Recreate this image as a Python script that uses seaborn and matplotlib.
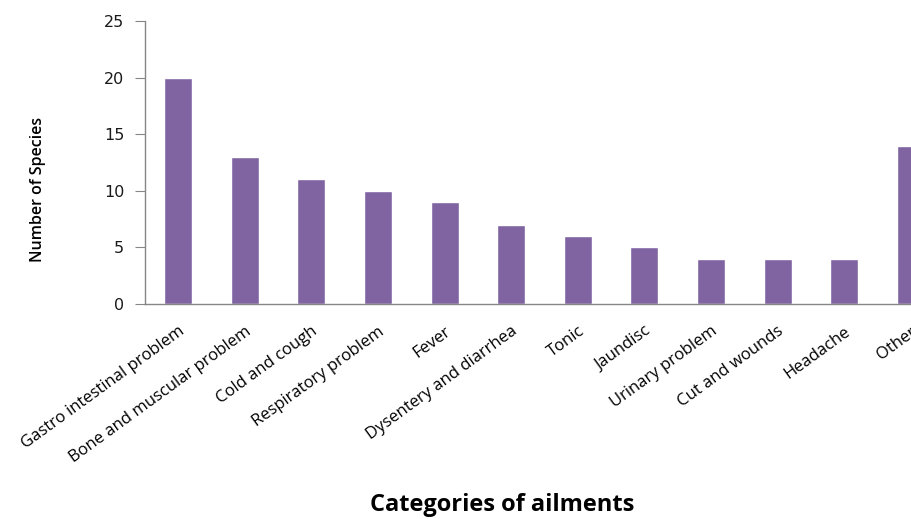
import numpy as np
import pandas as pd
import matplotlib
matplotlib.use('Agg')
import matplotlib.pyplot as plt
import matplotlib.transforms as mtransforms
import seaborn as sns

# Data
ailments = ['Gastro intestinal problem', 'Bone and muscular problem', 'Cold and cough',
            'Respiratory problem', 'Fever', 'Dysentery and diarrhea', 'Tonic', 'Jaundisc',
            'Urinary problem', 'Cut and wounds', 'Headache', 'Other']
species_count = [20, 13, 11, 10, 9, 7, 6, 5, 4, 4, 4, 14]
y_ticks = [0, 5, 10, 15, 20, 25]

df = pd.DataFrame({'ailment': ailments, 'count': species_count})

sns.set_style("white")
axis_grey = '#868686'

fig = plt.figure(figsize=(9.12, 5.19), dpi=100)
# plot area runs past the right edge, like the original (last bar is cut off)
ax = fig.add_axes([145 / 912, 215 / 519, 799 / 912, 283 / 519])

sns.barplot(x='ailment', y='count', data=df, color='#8064A2', width=0.42,
            saturation=1, ax=ax)

ax.set_xlim(-0.5, len(ailments) - 0.5)
ax.set_ylim(0, 25)
ax.set_yticks(y_ticks)
ax.set_yticklabels([str(t) for t in y_ticks], family='DejaVu Sans', fontsize=11.5,
                   color='#1a1a1a')

# category labels, ticks between categories
ax.set_xticks(range(len(ailments)))
ax.set_xticklabels(ailments, rotation=36, ha='right', rotation_mode='anchor',
                   family='Open Sans', fontsize=12, color='black')
shift = mtransforms.ScaledTranslation(5 / 100, 0, fig.dpi_scale_trans)
for lbl in ax.get_xticklabels():
    lbl.set_transform(lbl.get_transform() + shift)
ax.tick_params(axis='x', length=0, pad=14)
ax.set_xticks(np.arange(0.5, len(ailments) - 0.5), minor=True)
ax.tick_params(axis='x', which='minor', length=6, color=axis_grey, direction='out')
ax.tick_params(axis='y', length=7, color=axis_grey, direction='out', pad=8, left=True)

for side in ['top', 'right']:
    ax.spines[side].set_visible(False)
for side in ['left', 'bottom']:
    ax.spines[side].set_color(axis_grey)
    ax.spines[side].set_linewidth(1)

ax.set_xlabel('')
ax.set_ylabel('')
fig.text(38 / 912, 1 - 190 / 519, 'Number of Species', rotation=90, ha='center',
         va='center', family='Open Sans', fontsize=11.5, fontweight='semibold',
         fontstretch='condensed', color='black')
fig.text(502 / 912, 1 - 505 / 519, 'Categories of ailments', ha='center', va='center',
         family='Open Sans', fontsize=17, fontweight='bold', color='black')

fig.savefig('out.png', dpi=100)
